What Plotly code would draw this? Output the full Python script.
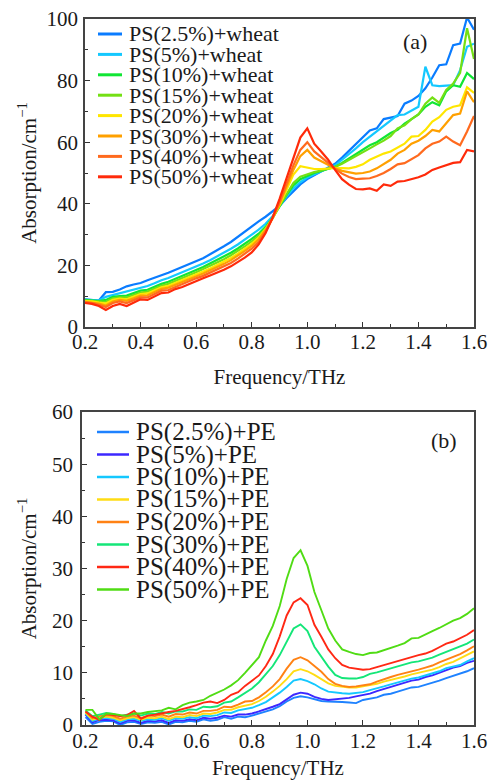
import plotly.graph_objects as go

freq = [0.2, 0.225, 0.25, 0.275, 0.3, 0.325, 0.35, 0.375, 0.4, 0.425, 0.45, 0.475, 0.5, 0.525, 0.55,
        0.575, 0.6, 0.625, 0.65, 0.675, 0.7, 0.725, 0.75, 0.775, 0.8, 0.825, 0.85, 0.875, 0.9, 0.925,
        0.95, 0.975, 1.0, 1.025, 1.05, 1.075, 1.1, 1.125, 1.15, 1.175, 1.2, 1.225, 1.25, 1.275, 1.3,
        1.325, 1.35, 1.375, 1.4, 1.425, 1.45, 1.475, 1.5, 1.525, 1.55, 1.575, 1.6]

# ---------------- panel (a): PS + wheat ----------------
labels_a = ["PS(2.5%)+wheat", "PS(5%)+wheat", "PS(10%)+wheat", "PS(15%)+wheat",
            "PS(20%)+wheat", "PS(30%)+wheat", "PS(40%)+wheat", "PS(50%)+wheat"]
colors_a = ["#0a7cff", "#14c8ff", "#10e634", "#74e014", "#ffe600", "#ffa000", "#ff6a1e", "#ff2a0a"]

wheat_2p5 = [9.0, 8.8, 8.6, 11.3, 11.4, 12.2, 13.2, 13.8, 14.3, 15.2, 15.9, 16.8, 17.6, 18.5, 19.4,
             20.3, 21.2, 22.3, 23.6, 24.8, 26.2, 27.6, 29.3, 31.0, 32.8, 34.3, 35.8, 37.6, 39.3, 41.8,
             44.2, 46.3, 48.0, 49.3, 50.5, 51.8, 53.0, 55.0, 57.2, 59.5, 61.5, 63.8, 64.5, 67.5, 68.0,
             68.5, 72.5, 73.5, 75.0, 77.5, 81.0, 85.0, 85.3, 91.5, 92.0, 100.5, 96.5]
wheat_5 = [8.9, 8.8, 8.6, 9.8, 10.4, 10.8, 11.4, 12.0, 12.8, 13.3, 14.2, 15.2, 15.9, 16.8, 17.7,
           18.6, 19.6, 20.6, 21.7, 22.9, 24.1, 25.4, 26.8, 28.3, 30.0, 31.6, 33.5, 36.0, 39.2, 42.3,
           45.0, 47.0, 48.5, 49.6, 50.6, 51.5, 52.5, 54.3, 56.0, 58.0, 60.0, 61.8, 63.5, 65.5, 67.0,
           68.8, 69.0, 70.3, 71.5, 84.5, 78.5, 78.2, 78.3, 78.5, 83.4, 91.0, 92.0]
wheat_10 = [8.8, 8.7, 8.4, 8.8, 9.8, 10.0, 10.2, 11.0, 11.8, 12.1, 13.1, 14.0, 14.7, 15.6, 16.5,
            17.5, 18.5, 19.5, 20.6, 21.7, 22.8, 24.1, 25.5, 27.0, 28.6, 30.3, 32.5, 35.4, 39.2, 42.8,
            46.0, 48.0, 49.0, 50.0, 50.7, 51.3, 52.0, 53.3, 54.7, 56.0, 57.5, 59.0, 60.0, 61.5, 63.0,
            64.0, 66.0, 67.5, 69.0, 71.5, 73.0, 72.0, 76.5, 78.5, 78.0, 82.5, 80.5]
wheat_15 = [8.6, 8.5, 8.2, 8.2, 9.3, 9.6, 9.6, 10.4, 11.2, 11.5, 12.5, 13.4, 14.0, 14.9, 15.8,
            16.8, 17.8, 18.8, 19.8, 20.9, 22.0, 23.3, 24.7, 26.2, 27.8, 29.6, 32.0, 35.3, 39.3, 43.3,
            46.8, 48.8, 49.6, 50.3, 50.8, 51.3, 52.0, 53.0, 54.2, 55.5, 56.8, 58.0, 59.3, 60.5, 62.0,
            64.5, 65.5, 67.5, 69.0, 72.5, 74.5, 72.8, 77.0, 79.0, 82.5, 97.0, 87.0]
wheat_20 = [8.4, 8.3, 7.9, 7.6, 8.8, 9.2, 9.0, 9.8, 10.7, 10.9, 11.9, 12.9, 13.4, 14.3, 15.1,
            16.1, 17.1, 18.0, 19.0, 20.1, 21.2, 22.4, 23.8, 25.4, 27.0, 29.0, 31.8, 35.3, 39.5, 44.5,
            49.5, 52.2, 51.8, 51.3, 51.3, 51.5, 51.6, 51.6, 51.5, 52.0, 52.8, 54.3, 55.3, 56.3, 57.0,
            58.3, 59.5, 61.8, 62.0, 64.0, 66.7, 68.1, 70.5, 71.5, 72.0, 77.8, 76.0]
wheat_30 = [8.2, 8.0, 7.6, 7.0, 8.3, 8.8, 8.5, 9.3, 10.2, 10.3, 11.4, 12.4, 12.8, 13.7, 14.5,
            15.5, 16.5, 17.4, 18.4, 19.4, 20.5, 21.7, 23.1, 24.7, 26.3, 28.5, 31.5, 35.3, 40.0, 45.5,
            51.0, 55.5, 57.5, 55.0, 53.8, 52.7, 51.5, 50.7, 50.2, 49.8, 50.0, 50.5, 51.5, 53.0, 54.3,
            56.3, 57.5, 59.5, 60.5, 62.0, 64.0, 63.5, 66.0, 68.8, 69.3, 76.5, 73.0]
wheat_40 = [8.0, 7.8, 7.2, 6.5, 7.8, 8.3, 7.8, 8.8, 9.6, 9.6, 10.8, 11.8, 12.0, 13.0, 13.8,
            14.8, 15.8, 16.6, 17.6, 18.6, 19.6, 20.8, 22.2, 23.8, 25.4, 27.6, 31.0, 35.3, 40.5, 46.5,
            52.5, 57.5, 60.0, 57.0, 55.3, 53.3, 51.3, 49.8, 48.7, 48.0, 48.2, 48.3, 49.0, 50.0, 51.3,
            52.8, 53.2, 54.5, 55.8, 58.0, 59.5, 60.2, 61.8, 60.2, 59.0, 63.5, 68.5]
wheat_50 = [7.8, 7.5, 6.8, 5.5, 6.8, 7.5, 6.8, 8.0, 9.0, 8.8, 10.0, 11.0, 11.2, 12.3, 13.0,
            14.0, 15.0, 15.8, 16.7, 17.6, 18.6, 19.7, 21.0, 22.5, 24.2, 26.8, 30.5, 35.5, 41.5, 48.0,
            55.0, 61.5, 64.5, 59.5, 57.0, 54.3, 51.0, 48.0, 46.2, 44.8, 44.7, 45.0, 44.2, 46.3, 45.8,
            47.2, 47.4, 48.0, 48.6, 49.5, 51.0, 51.8, 52.5, 53.3, 53.5, 57.5, 57.0]

# ---------------- panel (b): PS + PE ----------------
labels_b = ["PS(2.5%)+PE", "PS(5%)+PE", "PS(10%)+PE", "PS(15%)+PE",
            "PS(20%)+PE", "PS(30%)+PE", "PS(40%)+PE", "PS(50%)+PE"]
colors_b = ["#1e82ff", "#3c28ff", "#14c8ff", "#ffdc14", "#ff8214", "#14e678", "#ff2814", "#50dc14"]

pe_2p5 = [1.5, 0.2, 0.6, 0.8, 0.7, 0.0, 0.5, 0.6, 0.2, 0.5, 0.4, 0.6, 0.1, 0.6, 0.5,
          0.8, 0.6, 1.1, 0.8, 1.0, 1.5, 1.2, 1.6, 1.5, 1.8, 2.2, 2.6, 3.0, 3.6, 4.5,
          5.2, 5.5, 5.3, 4.9, 4.6, 4.5, 4.5, 4.4, 4.3, 4.2, 4.8, 5.0, 5.3, 5.8, 6.0,
          6.4, 6.8, 7.2, 7.3, 7.7, 8.0, 8.5, 9.0, 9.4, 9.8, 10.3, 10.9]
pe_5 = [2.0, 0.5, 1.0, 1.0, 0.9, 0.3, 0.8, 0.9, 0.4, 0.8, 0.7, 0.9, 0.4, 0.9, 0.8,
        1.1, 0.9, 1.4, 1.2, 1.4, 1.8, 1.6, 2.0, 2.0, 2.2, 2.6, 3.0, 3.5, 4.0, 4.9,
        5.8, 6.2, 6.0, 5.4, 5.0, 4.8, 4.9, 5.0, 5.2, 5.5, 5.8, 6.0, 6.5, 6.9, 7.3,
        7.7, 8.0, 8.5, 8.7, 9.2, 9.5, 10.0, 10.5, 11.0, 11.3, 11.9, 12.3]
pe_10 = [2.2, 0.8, 1.2, 1.4, 1.2, 0.6, 1.1, 1.2, 0.8, 1.1, 1.0, 1.3, 0.8, 1.3, 1.2,
         1.5, 1.3, 1.8, 1.7, 1.9, 2.4, 2.3, 2.8, 3.0, 3.3, 3.8, 4.4, 5.3, 6.2, 7.3,
         8.5, 8.8, 8.4, 7.8, 7.0, 6.4, 6.2, 6.1, 6.0, 6.1, 6.3, 6.7, 7.0, 7.4, 7.8,
         8.2, 8.6, 8.9, 9.1, 9.5, 9.8, 10.3, 10.9, 11.2, 11.5, 12.2, 12.8]
pe_15 = [2.4, 1.0, 1.4, 1.6, 1.4, 0.9, 1.3, 1.5, 1.0, 1.4, 1.3, 1.6, 1.1, 1.6, 1.5,
         1.9, 1.7, 2.2, 2.1, 2.4, 2.9, 2.9, 3.4, 3.7, 4.0, 4.6, 5.4, 6.4, 7.5, 8.8,
         10.3, 10.7, 10.3, 9.6, 8.8, 8.0, 7.5, 7.3, 7.2, 7.2, 7.4, 7.6, 7.9, 8.3, 8.6,
         9.0, 9.3, 9.7, 10.0, 10.3, 10.6, 11.1, 11.7, 12.1, 12.8, 13.4, 14.1]
pe_20 = [2.6, 1.3, 1.7, 1.9, 1.7, 1.2, 1.6, 1.8, 1.3, 1.8, 1.7, 2.0, 1.6, 2.1, 2.0,
         2.4, 2.2, 2.7, 2.7, 2.9, 3.5, 3.4, 3.9, 4.5, 4.6, 5.3, 6.3, 7.4, 8.8, 10.8,
         12.5, 13.0, 12.4, 11.3, 10.2, 8.8, 7.9, 7.5, 7.3, 7.4, 7.6, 7.8, 8.3, 8.8, 9.2,
         9.6, 9.9, 10.3, 10.6, 11.0, 11.4, 12.0, 12.5, 13.0, 13.6, 14.3, 15.1]
pe_30 = [2.8, 1.7, 2.0, 2.3, 2.1, 1.7, 2.0, 2.2, 1.8, 2.2, 2.1, 2.5, 2.2, 2.6, 2.6,
         3.0, 2.9, 3.5, 3.4, 3.6, 4.3, 4.5, 5.3, 6.2, 7.0, 8.2, 9.7, 11.3, 13.4, 16.0,
         18.5, 19.3, 18.0, 15.0, 13.1, 11.2, 9.6, 9.0, 8.9, 8.9, 9.2, 9.8, 10.1, 10.5, 10.9,
         11.3, 11.6, 12.0, 12.2, 12.5, 12.9, 13.5, 14.0, 14.5, 15.0, 15.6, 16.4]
pe_40 = [2.6, 1.6, 1.0, 2.1, 1.9, 1.7, 1.9, 2.7, 1.2, 1.8, 2.0, 2.3, 2.5, 2.7, 3.0,
         3.4, 3.8, 4.3, 4.5, 4.2, 4.8, 5.8, 6.3, 7.5, 8.5, 9.5, 11.3, 13.6, 17.0, 21.0,
         23.5, 24.3, 23.0, 19.2, 16.9, 14.5, 12.8, 11.5, 11.0, 10.8, 10.6, 10.7, 11.1, 11.4, 11.8,
         12.2, 12.6, 13.0, 13.4, 13.7, 14.2, 14.9, 15.6, 16.0, 16.6, 17.3, 18.2]
pe_50 = [2.9, 2.9, 1.1, 2.2, 2.1, 1.9, 1.7, 2.2, 2.2, 2.5, 2.6, 2.8, 3.3, 3.0, 3.8,
         4.3, 4.5, 4.8, 5.6, 6.2, 6.8, 7.6, 8.6, 10.0, 11.5, 13.0, 16.2, 19.0, 22.8, 28.0,
         32.0, 33.5, 30.5, 25.5, 22.0, 18.5, 16.2, 14.5, 14.0, 13.6, 13.4, 13.8, 13.9, 14.3, 14.8,
         15.2, 15.7, 16.6, 16.7, 17.4, 18.0, 18.6, 19.3, 20.0, 20.5, 21.3, 22.4]

series_a = [wheat_2p5, wheat_5, wheat_10, wheat_15, wheat_20, wheat_30, wheat_40, wheat_50]
series_b = [pe_2p5, pe_5, pe_10, pe_15, pe_20, pe_30, pe_40, pe_50]

W, H = 493, 780
FONT = "'Liberation Serif', 'Times New Roman', 'DejaVu Serif', serif"


def px(x):
    return x / W


def py(y):
    return 1 - y / H


fig = go.Figure()
for lab, col, ys in zip(labels_a, colors_a, series_a):
    fig.add_trace(go.Scatter(x=freq, y=ys, mode="lines", name=lab, showlegend=False,
                             line=dict(color=col, width=2.2), xaxis="x", yaxis="y"))
for lab, col, ys in zip(labels_b, colors_b, series_b):
    fig.add_trace(go.Scatter(x=freq, y=ys, mode="lines", name=lab, showlegend=False,
                             line=dict(color=col, width=1.9), xaxis="x2", yaxis="y2"))

axis_common = dict(showline=True, linecolor="#444", linewidth=1.5, mirror=True,
                   ticks="inside", ticklen=5, tickwidth=1.2, tickcolor="#333",
                   showgrid=False, zeroline=False, automargin=False, ticklabeloverflow="allow",
                   tickfont=dict(family=FONT, size=21, color="#1a1a1a"),
                   title_font=dict(family=FONT, size=21, color="#1a1a1a"))

fig.update_layout(
    width=W, height=H, margin=dict(l=0, r=0, t=0, b=0, autoexpand=False),
    paper_bgcolor="white", plot_bgcolor="white", showlegend=False,
    font=dict(family=FONT),
    xaxis=dict(domain=[px(85), px(474)], range=[0.2, 1.6], dtick=0.2, tick0=0.2, tickformat=".1f",
               minor=dict(ticks="inside", dtick=0.1, ticklen=3, tickcolor="#333"),
               title=dict(text="Frequency/THz", standoff=16), anchor="y",
               ticklabelstandoff=-5, **axis_common),
    yaxis=dict(domain=[py(327), py(19)], range=[0, 100], dtick=20,
               minor=dict(ticks="inside", dtick=10, ticklen=3, tickcolor="#333"),
               title=dict(text="Absorption/cm<sup>−1</sup>", standoff=4), anchor="x",
               ticklabelstandoff=1, **axis_common),
    xaxis2=dict(domain=[px(82), px(474)], range=[0.1875, 1.6], dtick=0.2, tick0=0.2, tickformat=".1f",
                minor=dict(ticks="inside", dtick=0.1, tick0=0.2, ticklen=3, tickcolor="#333"),
                title=dict(text="Frequency/THz", standoff=12), anchor="y2",
                ticklabelstandoff=-4, **axis_common),
    yaxis2=dict(domain=[py(725), py(412)], range=[0, 60], dtick=10,
                minor=dict(ticks="inside", dtick=5, ticklen=3, tickcolor="#333"),
                title=dict(text="Absorption/cm<sup>−1</sup>", standoff=10), anchor="x2",
                ticklabelstandoff=3, **axis_common),
)

# legends drawn as key lines + text
shapes = []
annotations = []
for i, (lab, col) in enumerate(zip(labels_a, colors_a)):
    yy = 34 + i * 20.4
    shapes.append(dict(type="line", xref="paper", yref="paper", x0=px(98), x1=px(122),
                       y0=py(yy), y1=py(yy), line=dict(color=col, width=3)))
    annotations.append(dict(xref="paper", yref="paper", x=px(127), y=py(yy), text=lab,
                            showarrow=False, xanchor="left", yanchor="middle",
                            font=dict(family=FONT, size=22, color="#1a1a1a")))
for i, (lab, col) in enumerate(zip(labels_b, colors_b)):
    yy = 432 + i * 22.5
    shapes.append(dict(type="line", xref="paper", yref="paper", x0=px(97), x1=px(129),
                       y0=py(yy), y1=py(yy), line=dict(color=col, width=2.5)))
    annotations.append(dict(xref="paper", yref="paper", x=px(134), y=py(yy), text=lab,
                            showarrow=False, xanchor="left", yanchor="middle",
                            font=dict(family=FONT, size=25, color="#1a1a1a")))

annotations.append(dict(xref="paper", yref="paper", x=px(415), y=py(41), text="(a)", showarrow=False,
                        xanchor="center", yanchor="middle", font=dict(family=FONT, size=22, color="#1a1a1a")))
annotations.append(dict(xref="paper", yref="paper", x=px(444), y=py(440), text="(b)", showarrow=False,
                        xanchor="center", yanchor="middle", font=dict(family=FONT, size=22, color="#1a1a1a")))

fig.update_layout(shapes=shapes, annotations=annotations)
fig.write_html("out.html", config={"displayModeBar": False},
               post_script="document.body.style.margin='0';document.body.style.overflow='hidden';")
